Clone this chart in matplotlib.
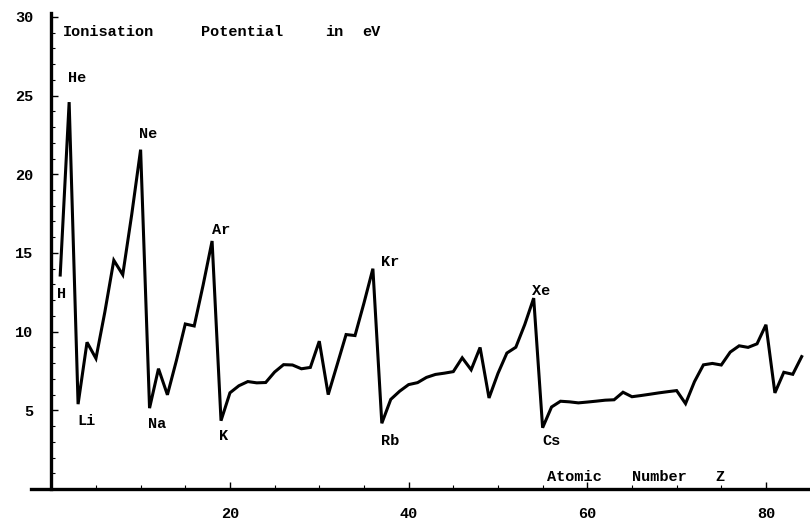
import matplotlib
matplotlib.use("Agg")
import matplotlib.pyplot as plt
from matplotlib.ticker import FixedLocator

# ---- data ----
Z = list(range(1, 85))
ionisation_eV = [
    13.598, 24.587, 5.392, 9.323, 8.298, 11.260, 14.534, 13.618, 17.423, 21.565,
    5.139, 7.646, 5.986, 8.152, 10.487, 10.360, 12.968, 15.760, 4.341, 6.113,
    6.561, 6.828, 6.746, 6.767, 7.434, 7.902, 7.881, 7.640, 7.726, 9.394,
    5.999, 7.900, 9.815, 9.752, 11.814, 14.000, 4.177, 5.695, 6.217, 6.634,
    6.759, 7.092, 7.280, 7.361, 7.459, 8.337, 7.576, 8.994, 5.786, 7.344,
    8.640, 9.010, 10.451, 12.130, 3.894, 5.212, 5.577, 5.539, 5.473, 5.525,
    5.582, 5.644, 5.670, 6.150, 5.864, 5.939, 6.022, 6.108, 6.184, 6.254,
    5.426, 6.825, 7.890, 7.980, 7.880, 8.700, 9.100, 9.000, 9.226, 10.438,
    6.108, 7.417, 7.289, 8.414,
]
element_labels = ["H", "He", "Li", "Ne", "Na", "Ar", "K", "Kr", "Rb", "Xe", "Cs"]
x_tick_labels = [20, 40, 60, 80]
y_tick_labels = [5, 10, 15, 20, 25, 30]

# label anchor positions (data coords, left/center aligned)
label_pos = {
    "H": (0.64, 12.40), "He": (1.9, 26.1), "Li": (2.88, 4.32), "Ne": (9.83, 22.57),
    "Na": (10.82, 4.13), "Ar": (17.99, 16.47), "K": (18.77, 3.37), "Kr": (36.91, 14.43),
    "Rb": (36.91, 3.05), "Xe": (53.81, 12.59), "Cs": (54.93, 3.05),
}

FONT = "Liberation Mono"
FS = 11

fig = plt.figure(figsize=(8.10, 5.21), dpi=100)
W, H = 810, 521
left_px, right_px, top_px, bottom_px = 31, 810, 13, 489
ax = fig.add_axes([left_px / W, (H - bottom_px) / H,
                   (right_px - left_px) / W, (bottom_px - top_px) / H])
ax.set_xlim(-2.27, 84.93)
ax.set_ylim(0, 30.25)

ax.plot(Z, ionisation_eV, color="black", lw=2.2, solid_joinstyle="miter")

for s in ["top", "right"]:
    ax.spines[s].set_visible(False)
ax.spines["left"].set_position(("data", 0))
ax.spines["bottom"].set_position(("data", 0))
for s in ["left", "bottom"]:
    ax.spines[s].set_linewidth(2.4)

ax.xaxis.set_major_locator(FixedLocator(x_tick_labels))
ax.xaxis.set_minor_locator(FixedLocator([v for v in range(5, 85, 5) if v not in x_tick_labels]))
ax.yaxis.set_major_locator(FixedLocator(y_tick_labels))
ax.yaxis.set_minor_locator(FixedLocator([v for v in range(1, 31) if v % 5 != 0]))

ax.tick_params(axis="both", which="major", direction="in", length=5, width=1.0,
               labelsize=FS, colors="black")
ax.tick_params(axis="both", which="minor", direction="in", length=3, width=0.8)
ax.tick_params(axis="x", which="major", pad=13)
ax.tick_params(axis="y", which="major", pad=13)
for lab in ax.get_xticklabels() + ax.get_yticklabels():
    lab.set_fontfamily(FONT)
    lab.set_fontweight("bold")

for name in element_labels:
    x, y = label_pos[name]
    ax.text(x, y, name, fontfamily=FONT, fontweight="bold", fontsize=FS,
            ha="left", va="center")

title_words = [("Ionisation", 1.31), ("Potential", 16.76), ("in", 30.64), ("eV", 34.78)]
for w, x in title_words:
    ax.text(x, 29.05, w, fontfamily=FONT, fontweight="bold", fontsize=FS,
            ha="left", va="center")
xlabel_words = [("Atomic", 55.49), ("Number", 65.0), ("Z", 74.3)]
for w, x in xlabel_words:
    ax.text(x, 0.76, w, fontfamily=FONT, fontweight="bold", fontsize=FS,
            ha="left", va="center")

fig.savefig("out.png", dpi=100)
